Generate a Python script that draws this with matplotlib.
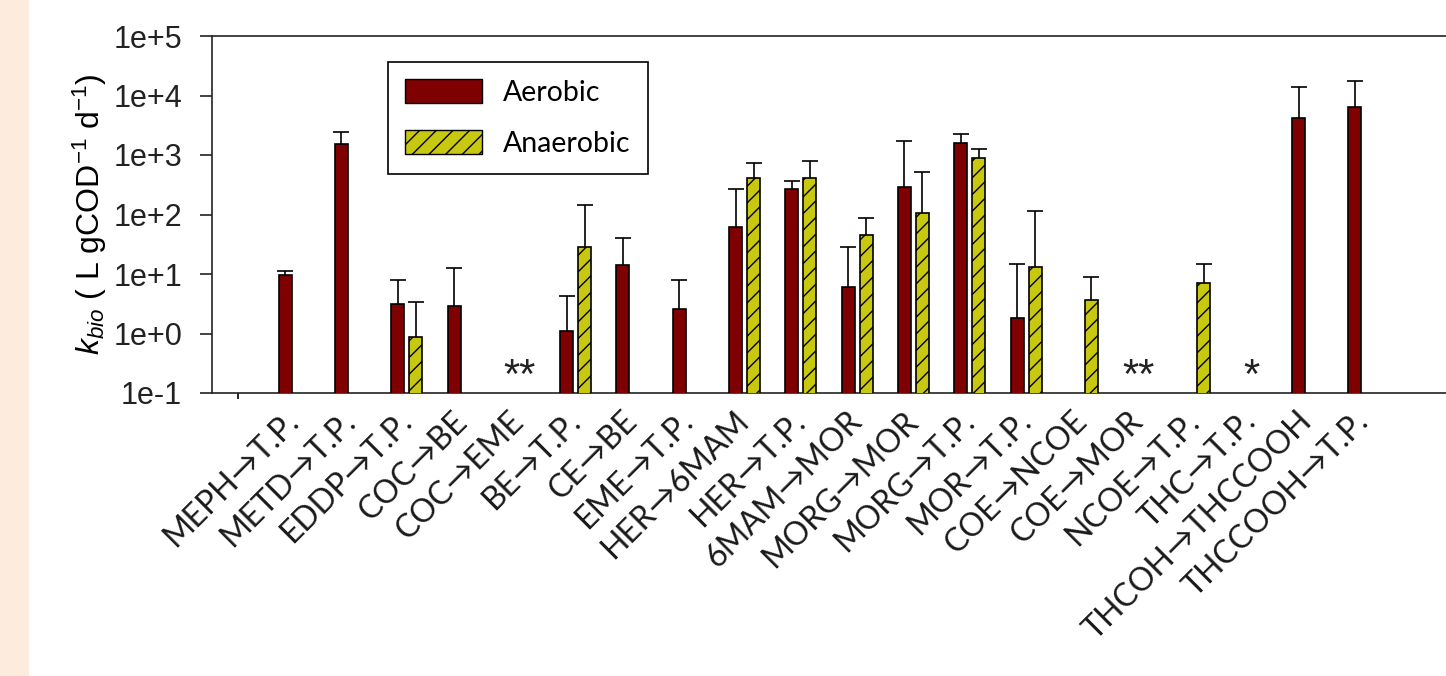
import numpy as np
import matplotlib
matplotlib.use("Agg")
import matplotlib.pyplot as plt
from matplotlib.patches import Rectangle, Patch

plt.rcParams['font.family'] = ['Liberation Sans', 'DejaVu Sans']
plt.rcParams['mathtext.fontset'] = 'custom'
plt.rcParams['mathtext.rm'] = 'Liberation Sans'
plt.rcParams['mathtext.it'] = 'Liberation Sans:italic'
plt.rcParams['hatch.linewidth'] = 1.0

nan = np.nan

# pathways on the x axis
labels = ['MEPH→T.P.', 'METD→T.P.', 'EDDP→T.P.', 'COC→BE', 'COC→EME',
          'BE→T.P.', 'CE→BE', 'EME→T.P.', 'HER→6MAM', 'HER→T.P.',
          '6MAM→MOR', 'MORG→MOR', 'MORG→T.P.', 'MOR→T.P.', 'COE→NCOE',
          'COE→MOR', 'NCOE→T.P.', 'THC→T.P.', 'THCOH→THCCOOH', 'THCCOOH→T.P.']

# kbio values (L gCOD-1 d-1), upper end of error bars
aerobic = [9.6, 1510, 3.13, 2.9, nan, 1.10, 14.2, 2.6, 62, 264,
           6.1, 290, 1570, 1.85, nan, nan, nan, nan, 4140, 6300]
aerobic_hi = [11.4, 2470, 7.9, 12.5, nan, 4.3, 39.8, 7.9, 264, 372,
              28.4, 1740, 2220, 14.6, nan, nan, nan, nan, 13700, 17800]
anaerobic = [nan, nan, 0.86, nan, nan, 28.8, nan, nan, 405, 405,
             44.7, 105, 890, 13.3, 3.66, nan, 7.1, nan, nan, nan]
anaerobic_hi = [nan, nan, 3.4, nan, nan, 145, nan, nan, 734, 794,
                86, 525, 1250, 113, 8.8, nan, 14.6, nan, nan, nan]

# asterisks for pathways without a value
star_pos = [4, 15, 17]
star_txt = ['**', '**', '*']

yticks = [0.1, 1, 10, 100, 1e3, 1e4, 1e5]
ytick_labels = ['1e-1', '1e+0', '1e+1', '1e+2', '1e+3', '1e+4', '1e+5']

aer_col = '#7f0000'
ana_col = '#c8c810'

fig = plt.figure(figsize=(14.46, 6.76), dpi=100)
fig.patches.append(Rectangle((0, 0), 29 / 1446, 1, transform=fig.transFigure,
                             facecolor='#fdebdd', edgecolor='none', zorder=-1))
ax = fig.add_axes([212 / 1446, 283 / 676, 1 - 212 / 1446, 357 / 676])

x = np.arange(len(labels))
w = 0.23
off = 0.16

a = np.array(aerobic)
an = np.array(anaerobic)
ax.bar(x - off, a, w, color=aer_col, edgecolor='black', linewidth=1.2, zorder=3)
ax.bar(x + off, an, w, color=ana_col, edgecolor='black', linewidth=1.2,
       hatch='//', zorder=3)

for xs, v, hi in [(x - off, a, np.array(aerobic_hi)), (x + off, an, np.array(anaerobic_hi))]:
    eb = ax.errorbar(xs, v, yerr=[np.zeros_like(v), hi - v], fmt='none',
                     ecolor='black', elinewidth=1.2, capsize=5.8, capthick=1.2, zorder=2)
    eb[1][0].set_visible(False)

for p, t in zip(star_pos, star_txt):
    ax.text(p, 0.185, t, ha='center', va='center', fontsize=30, color='#222222')

ax.set_yscale('log')
ax.set_ylim(0.1, 1e5)
ax.set_xlim(-1.46, 20.46)
ax.set_yticks(yticks)
ax.set_yticklabels(ytick_labels)
ax.yaxis.set_minor_locator(matplotlib.ticker.NullLocator())
ax.tick_params(axis='y', labelsize=22, length=8.6, width=1.2, pad=13, colors='#222222')

ax.set_xticks(x)
ax.set_xticklabels(labels, rotation=45, ha='right', va='center',
                   rotation_mode='anchor', fontsize=23,
                   family=['Lato', 'DejaVu Sans'])
ax.set_xticks(np.arange(-1, 20, 2), minor=True)
ax.tick_params(axis='x', which='major', length=0, pad=17, colors='#1a1a1a')
ax.tick_params(axis='x', which='minor', length=4, width=1.2, direction='out')

for s in ['top', 'bottom', 'left']:
    ax.spines[s].set_linewidth(1.2)
    ax.spines[s].set_color('#222222')
ax.spines['right'].set_visible(False)

ax.set_ylabel(r'$k_{bio}$ ( L gCOD$^{-1}$ d$^{-1}$)', fontsize=23, labelpad=3)

handles = [Patch(facecolor=aer_col, edgecolor='black', label='Aerobic'),
           Patch(facecolor=ana_col, edgecolor='black', hatch='//', label='Anaerobic')]
leg = ax.legend(handles=handles, loc='upper left', bbox_to_anchor=(388 / 1446, 1 - 62 / 676),
                bbox_transform=fig.transFigure, fancybox=False, framealpha=1,
                edgecolor='black', prop={'family': 'Lato', 'size': 20.5},
                handlelength=2.7, handleheight=0.9, handletextpad=0.75,
                labelspacing=0.85, borderpad=0.6, borderaxespad=0)
leg.get_frame().set_linewidth(1.2)

fig.savefig('out.png', dpi=100)
